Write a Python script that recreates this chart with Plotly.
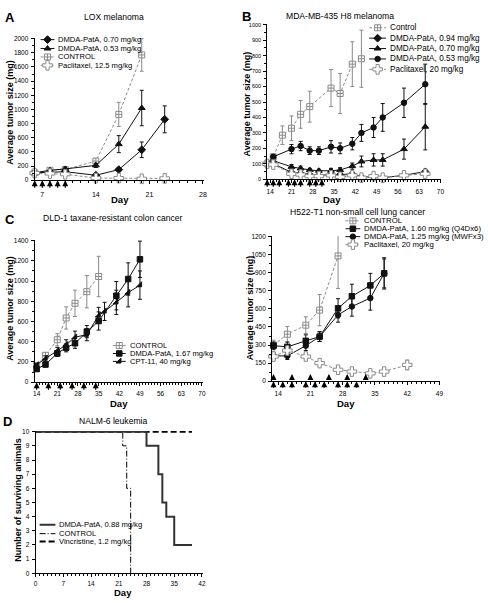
import plotly.graph_objects as go

W, H = 488, 603
FONT = "Liberation Sans, Arial, Helvetica, sans-serif"
GRAY = "#8a8a8a"
BLACK = "#111111"

# ---------------- Panel A : LOX melanoma ----------------
a_ctrl_days = [6, 8, 10, 14, 17, 20]
a_ctrl = [105, 140, 150, 270, 930, 1770]
a_ctrl_err = [10, 20, 25, 40, 170, 230]
a_053_days = [6, 8, 10, 14, 17, 20]
a_053 = [105, 140, 160, 210, 510, 1020]
a_053_err = [10, 20, 25, 30, 120, 250]
a_070_days = [6, 8, 10, 14, 17, 20, 23]
a_070 = [105, 110, 120, 70, 150, 430, 860]
a_070_err = [10, 10, 15, 10, 20, 110, 190]
a_pac_days = [6, 8, 10, 14, 17, 20, 23]
a_pac = [100, 95, 85, 30, 30, 20, 25]
a_pac_err = [10, 10, 10, 5, 5, 5, 5]
a_dose_days = [6, 7, 8, 9, 10]

# ---------------- Panel B : MDA-MB-435 H8 melanoma ----------------
b_days = [13, 15, 21, 24, 27, 30, 34, 37, 41, 44, 48, 51, 58, 65]
b_ctrl_days = [13, 15, 18, 21, 24, 27, 34, 37, 41, 44]
b_ctrl = [100, 145, 285, 330, 420, 470, 590, 555, 745, 780]
b_ctrl_err = [10, 20, 60, 80, 90, 100, 120, 130, 145, 185]
b_053 = [100, 145, 195, 215, 185, 185, 210, 200, 230, 300, 335, 400, 495, 615]
b_053_err = [10, 15, 30, 30, 25, 25, 40, 35, 40, 55, 65, 90, 95, 130]
b_070 = [100, 120, 80, 70, 60, 55, 55, 60, 85, 115, 125, 125, 195, 340]
b_070_err = [10, 15, 15, 15, 10, 10, 15, 15, 20, 35, 40, 40, 65, 150]
b_094 = [100, 100, 45, 40, 30, 25, 30, 30, 35, 15, 15, 10, 25, 50]
b_094_err = [10, 10, 10, 10, 8, 8, 8, 8, 10, 8, 8, 6, 10, 15]
b_pac = [100, 95, 35, 30, 20, 20, 25, 15, 25, 10, 20, 10, 25, 35]
b_pac_err = [10, 10, 8, 8, 6, 6, 8, 6, 8, 5, 6, 5, 8, 10]
b_dose_days = [13, 15, 17, 20, 22, 24, 27, 29, 31]

# ---------------- Panel C : DLD-1 ----------------
c_ctrl_days = [14, 17, 21, 24, 27, 31, 35]
c_ctrl = [165, 265, 420, 635, 780, 895, 1045]
c_ctrl_err = [15, 30, 60, 110, 130, 160, 200]
c_dmda_days = [14, 17, 21, 24, 27, 31, 35, 41, 45, 49]
c_dmda = [130, 175, 285, 340, 385, 500, 605, 855, 1020, 1215]
c_dmda_err = [20, 25, 30, 40, 50, 60, 90, 140, 160, 180]
c_cpt_days = [14, 17, 21, 24, 27, 31, 35, 37, 41, 45, 49]
c_cpt = [170, 235, 310, 370, 445, 470, 660, 700, 790, 885, 960]
c_cpt_err = [15, 25, 35, 50, 60, 60, 80, 90, 120, 140, 140]
c_dose_days = [14, 18, 22, 26, 30, 34]

# ---------------- Panel D : H522-T1 ----------------
d_ctrl_days = [13, 16, 20, 23, 27]
d_ctrl = [300, 390, 465, 590, 1040]
d_ctrl_err = [40, 65, 70, 130, 270]
d_days = [13, 16, 20, 23, 27, 30, 34, 37]
d_160 = [295, 285, 335, 370, 605, 705, 795, 895]
d_160_err = [30, 40, 50, 40, 80, 100, 100, 120]
d_125 = [210, 210, 295, 370, 550, 620, 690, 895]
d_125_err = [30, 30, 40, 40, 60, 80, 100, 130]
d_pac_days = [13, 16, 20, 23, 27, 30, 34, 37, 42]
d_pac = [205, 255, 205, 150, 95, 80, 65, 80, 135]
d_pac_err = [20, 25, 20, 15, 10, 10, 10, 10, 40]
d_dose_q4d = [13, 17, 21, 25, 29, 33]
d_dose_mwf = [13, 15, 17, 20, 22, 24, 27, 29, 31]

# ---------------- Panel E : NALM-6 survival ----------------
e_dmda_days = [0, 28, 31, 32, 33, 35, 39.5]
e_dmda_n = [10, 9, 7, 5, 4, 2, 2]
e_ctrl_days = [0, 22, 23, 24]
e_ctrl_n = [10, 9, 6, 0]
e_vin_days = [0, 39.5]
e_vin_n = [10, 10]

fig = go.Figure()


def domain(v0, p0, v1, p1, r0, r1, total, vertical=False):
    s = (p1 - p0) / (v1 - v0)
    a = p0 + (r0 - v0) * s
    b = p0 + (r1 - v0) * s
    lo, hi = min(a, b), max(a, b)
    if vertical:
        return [1 - hi / total, 1 - lo / total]
    return [lo / total, hi / total]


# name, x calib, x range, y calib, y range, xdtick, xminor, ydtick, yminor, xfont, yfont, x-label standoff
panels = [
    ("", (6, 33, 28, 203), (6, 28.2), (0, 179, 2000, 36), (0, 2010), 7, 1, 200, 100, 7, 6.5, 4),
    ("2", (14, 271, 70, 443), (13, 70.3), (0, 178, 1000, 22), (0, 1005), 7, 1, 100, 50, 6.5, 5.5, 3),
    ("3", (14, 35, 70, 202), (13.3, 70.3), (0, 383, 1400, 240), (0, 1405), 7, 1, 200, 100, 6.5, 6.5, 2),
    ("4", (14, 279, 49, 442), (12.7, 49.2), (0, 382, 1200, 236), (0, 1205), 7, 1, 150, 75, 6.5, 6.5, 3),
    ("5", (0, 34, 42, 202), (0, 42.2), (0, 576, 10, 433), (0, 10.05), 7, 1, 1, None, 6.5, 6.5, 1),
]

layout_axes = {}
for name, xc, xr, yc, yr, xdt, xmn, ydt, ymn, xf, yf, xso in panels:
    xd = domain(*xc, *xr, W)
    yd = domain(*yc, *yr, H, vertical=True)
    common = dict(showline=True, linecolor="black", linewidth=1, ticks="outside",
                  ticklen=3, tickwidth=1, tickcolor="black", showgrid=False,
                  zeroline=False, fixedrange=True)
    xa = dict(common, domain=xd, range=list(xr), tick0=0, dtick=xdt,
              anchor="y" + name, ticklabelstandoff=xso,
              tickfont=dict(size=xf, family=FONT, color="black"),
              minor=dict(ticks="outside", dtick=xmn, tick0=0, ticklen=2,
                         tickcolor="black", tickwidth=0.8, showgrid=False))
    ya = dict(common, domain=yd, range=list(yr), tick0=0, dtick=ydt,
              anchor="x" + name, ticklabelstandoff=1,
              tickfont=dict(size=yf, family=FONT, color="black"))
    if ymn:
        ya["minor"] = dict(ticks="outside", dtick=ymn, tick0=0, ticklen=2,
                           tickcolor="black", tickwidth=0.8, showgrid=False)
    layout_axes["xaxis" + name] = xa
    layout_axes["yaxis" + name] = ya

layout_axes["xaxis6"] = dict(domain=[0, 1], range=[0, W], visible=False, fixedrange=True, anchor="y6")
layout_axes["yaxis6"] = dict(domain=[0, 1], range=[H, 0], visible=False, fixedrange=True, anchor="x6")


def series(xs, ys, err, ax, color, symbol, size, fill, dash="solid", lw=1):
    fig.add_trace(go.Scatter(
        x=xs, y=ys, xaxis="x" + ax, yaxis="y" + ax, mode="lines+markers",
        line=dict(color=color, width=lw, dash=dash),
        marker=dict(symbol=symbol, size=size, color=fill,
                    line=dict(color=color, width=1)),
        error_y=dict(type="data", array=err, color=color, thickness=1, width=2,
                     visible=True) if err is not None else None,
        cliponaxis=False, showlegend=False, hoverinfo="x+y"))


DASH = "3px,2px"
CTRL = dict(color=GRAY, symbol="square-cross", size=6, fill="white", dash=DASH)
PAC = dict(color=GRAY, symbol="cross", size=8, fill="white", dash=DASH)
MS = 5.5

series(a_ctrl_days, a_ctrl, a_ctrl_err, "", **CTRL)
series(a_053_days, a_053, a_053_err, "", BLACK, "triangle-up", MS + 0.5, BLACK)
series(a_070_days, a_070, a_070_err, "", BLACK, "diamond", MS + 0.5, BLACK)
series(a_pac_days, a_pac, a_pac_err, "", **PAC)

series(b_ctrl_days, b_ctrl, b_ctrl_err, "2", **CTRL)
series(b_days, b_053, b_053_err, "2", BLACK, "circle", MS, BLACK)
series(b_days, b_070, b_070_err, "2", BLACK, "triangle-up", MS + 0.5, BLACK)
series(b_days, b_094, b_094_err, "2", BLACK, "diamond", MS, BLACK)
series(b_days, b_pac, b_pac_err, "2", **PAC)

series(c_ctrl_days, c_ctrl, c_ctrl_err, "3", **CTRL)
series(c_cpt_days, c_cpt, c_cpt_err, "3", BLACK, "triangle-se", MS, BLACK)
series(c_dmda_days, c_dmda, c_dmda_err, "3", BLACK, "square", MS, BLACK)

series(d_ctrl_days, d_ctrl, d_ctrl_err, "4", **CTRL)
series(d_days, d_125, d_125_err, "4", BLACK, "circle", MS, BLACK)
series(d_days, d_160, d_160_err, "4", BLACK, "square", MS, BLACK)
series(d_pac_days, d_pac, d_pac_err, "4", **PAC)

fig.add_trace(go.Scatter(x=e_vin_days, y=e_vin_n, xaxis="x5", yaxis="y5", mode="lines",
                         line=dict(color="black", width=2, dash="6px,3px"),
                         cliponaxis=False, showlegend=False))
fig.add_trace(go.Scatter(x=e_ctrl_days, y=e_ctrl_n, xaxis="x5", yaxis="y5", mode="lines",
                         line=dict(color="black", width=1, dash="6px,2px,1px,2px", shape="hv"),
                         cliponaxis=False, showlegend=False))
fig.add_trace(go.Scatter(x=e_dmda_days, y=e_dmda_n, xaxis="x5", yaxis="y5", mode="lines",
                         line=dict(color="#333333", width=2, shape="hv"),
                         cliponaxis=False, showlegend=False))

annotations = []


def text(x, y, s, size, bold=False, anchor="center", angle=0):
    annotations.append(dict(
        x=x / W, y=1 - y / H, xref="paper", yref="paper", showarrow=False,
        text=("<b>%s</b>" % s) if bold else s, textangle=angle,
        xanchor=anchor, yanchor="middle", borderpad=0,
        font=dict(size=size, family=FONT, color="black")))


def legend_row(x0, x1, y, color, dash, symbol, size, fill, label, fs, lw=1):
    fig.add_trace(go.Scatter(x=[x0, x1], y=[y, y], xaxis="x6", yaxis="y6", mode="lines",
                             line=dict(color=color, width=lw, dash=dash),
                             showlegend=False, hoverinfo="skip", cliponaxis=False))
    if symbol:
        fig.add_trace(go.Scatter(x=[(x0 + x1) / 2], y=[y], xaxis="x6", yaxis="y6",
                                 mode="markers",
                                 marker=dict(symbol=symbol, size=size, color=fill,
                                             line=dict(color=color, width=1)),
                                 showlegend=False, hoverinfo="skip", cliponaxis=False))
    text(x1 + 3, y, label, fs, anchor="left")


a_labels = ["DMDA-PatA, 0.70 mg/kg", "DMDA-PatA, 0.53 mg/kg", "CONTROL", "Paclitaxel, 12.5 mg/kg"]
a_rows = [37, 46, 54.5, 63]
a_sty = [(BLACK, "solid", "diamond", 6, BLACK), (BLACK, "solid", "triangle-up", 6, BLACK),
         (GRAY, DASH, "square-cross", 6, "white"), (GRAY, DASH, "cross", 8, "white")]
for lab, yy, st in zip(a_labels, a_rows, a_sty):
    legend_row(39, 53, yy, st[0], st[1], st[2], st[3], st[4], lab, 7.6)

b_labels = ["Control", "DMDA-PatA, 0.94 mg/kg", "DMDA-PatA, 0.70 mg/kg", "DMDA-PatA, 0.53 mg/kg",
            "Paclitaxel, 20 mg/kg"]
b_rows = [25, 35.5, 46, 56.5, 67]
b_sty = [(GRAY, DASH, "square-cross", 6, "white"), (BLACK, "solid", "diamond", 6, BLACK),
         (BLACK, "solid", "triangle-up", 6, BLACK), (BLACK, "solid", "circle", 5.5, BLACK),
         (GRAY, DASH, "cross", 8, "white")]
for lab, yy, st in zip(b_labels, b_rows, b_sty):
    legend_row(371, 388, yy, st[0], st[1], st[2], st[3], st[4], lab, 8.2)

c_labels = ["CONTROL", "DMDA-PatA, 1.67 mg/kg", "CPT-11, 40 mg/kg"]
c_rows = [346, 354, 362]
c_sty = [(GRAY, DASH, "square-cross", 6, "white"), (BLACK, "solid", "square", 5.5, BLACK),
         (BLACK, "solid", "triangle-se", 5.5, BLACK)]
for lab, yy, st in zip(c_labels, c_rows, c_sty):
    legend_row(112, 125, yy, st[0], st[1], st[2], st[3], st[4], lab, 7.6)

d_labels = ["CONTROL", "DMDA-PatA, 1.60 mg/kg (Q4Dx6)", "DMDA-PatA, 1.25 mg/kg (MWFx3)",
            "Paclitaxel, 20 mg/kg"]
d_rows = [220, 228, 236, 244]
d_sty = [(GRAY, DASH, "square-cross", 6, "white"), (BLACK, "solid", "square", 5.5, BLACK),
         (BLACK, "solid", "circle", 5.5, BLACK), (GRAY, DASH, "cross", 8, "white")]
for lab, yy, st in zip(d_labels, d_rows, d_sty):
    legend_row(347, 362, yy, st[0], st[1], st[2], st[3], st[4], lab, 7.8)

e_labels = ["DMDA-PatA, 0.88 mg/kg", "CONTROL", "Vincristine, 1.2 mg/kg"]
legend_row(38, 54, 527, "#333333", "solid", None, 0, None, e_labels[0], 7.6, lw=2)
legend_row(38, 54, 536, "black", "6px,2px,1px,2px", None, 0, None, e_labels[1], 7.6, lw=1)
legend_row(38, 54, 544, "black", "6px,3px", None, 0, None, e_labels[2], 7.6, lw=2)

text(8, 15, "A", 13, bold=True)
text(247, 14, "B", 13, bold=True)
text(8, 219, "C", 13, bold=True)
text(6, 423, "D", 13, bold=True)

text(113, 14, "LOX melanoma", 8.6)
text(341, 13, "MDA-MB-435 H8 melanoma", 8.6)
text(112, 217, "DLD-1 taxane-resistant colon cancer", 8.6)
text(359, 211, "H522-T1 non-small cell lung cancer", 8.6)
text(113, 422, "NALM-6 leukemia", 8.6)

text(8, 110, "Average tumor size (mg)", 9, bold=True, angle=-90)
text(248, 102, "Average tumor size (mg)", 9, bold=True, angle=-90)
text(8, 308, "Average tumor size (mg)", 9, bold=True, angle=-90)
text(250, 308, "Average tumor size (mg)", 9, bold=True, angle=-90)
text(16, 502, "Number of surviving animals", 9, bold=True, angle=-90)

text(119, 198, "Day", 9.5, bold=True)
text(333, 198, "Day", 9.5, bold=True)
text(118, 405, "Day", 9.5, bold=True)
text(348, 405, "Day", 9.5, bold=True)
text(122, 595, "Day", 9.5, bold=True)


def arrows(days, ax, yval, ay):
    for d in days:
        annotations.append(dict(x=d, y=yval, xref="x" + ax, yref="y" + ax, text="",
                                showarrow=True, arrowhead=2, arrowsize=1.0, arrowwidth=1.2,
                                arrowcolor="black", ax=0, ay=ay, standoff=0))


arrows(a_dose_days, "", 0, 9)
arrows(b_dose_days, "2", 0, 9)
arrows(c_dose_days, "3", 0, 9)
arrows(d_dose_q4d, "4", 60, 7)
arrows(d_dose_mwf, "4", 0, 8)

fig.update_layout(
    width=W, height=H, margin=dict(l=0, r=0, t=0, b=0),
    paper_bgcolor="white", plot_bgcolor="rgba(0,0,0,0)", showlegend=False,
    font=dict(family=FONT, color="black"),
    annotations=annotations, **layout_axes)

fig.write_html("out.html", config={"displayModeBar": False},
               post_script="document.body.style.margin='0px';")
